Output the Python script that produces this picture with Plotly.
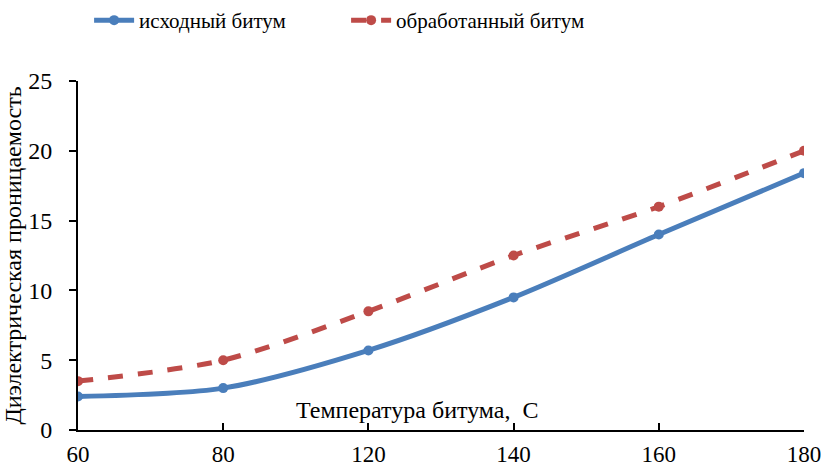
import plotly.graph_objects as go

# Temperature categories (°C) and permittivity for both bitumen samples
temps = ["60", "80", "120", "140", "160", "180"]
raw_bitumen = [2.4, 3.0, 5.7, 9.5, 14.0, 18.4]
treated_bitumen = [3.5, 5.0, 8.5, 12.5, 16.0, 20.0]
y_ticks = [0, 5, 10, 15, 20, 25]

BLUE = "#4a7ebb"
RED = "#be4b48"
SERIF = "Liberation Serif"

fig = go.Figure()
fig.add_trace(go.Scatter(
    x=temps, y=raw_bitumen, name="исходный битум",
    mode="lines+markers",
    line=dict(color=BLUE, width=5, shape="spline", smoothing=0.8),
    marker=dict(color=BLUE, size=10),
))
fig.add_trace(go.Scatter(
    x=temps, y=treated_bitumen, name="обработанный битум",
    mode="lines+markers",
    line=dict(color=RED, width=5, dash="dash", shape="spline", smoothing=0.8),
    marker=dict(color=RED, size=10),
))

fig.update_layout(
    width=825, height=470,
    margin=dict(l=78, r=21, t=81, b=40),
    plot_bgcolor="white", paper_bgcolor="white",
    font=dict(family=SERIF, size=20, color="black"),
    showlegend=True,
    legend=dict(
        orientation="h", x=0.108, y=1.0, xref="container", yref="container",
        xanchor="left", yanchor="top",
        font=dict(family=SERIF, size=21),
        entrywidth=202, entrywidthmode="pixels",
        itemwidth=40,
    ),
    xaxis=dict(
        type="category", range=[0, 5], automargin=False,
        showline=True, linecolor="black", linewidth=2,
        ticks="inside", ticklen=7, tickwidth=1.5, tickcolor="black",
        showgrid=False, zeroline=False,
        tickfont=dict(family=SERIF, size=23),
        ticklabelstandoff=2,
    ),
    yaxis=dict(
        range=[0, 25], tickvals=y_ticks, automargin=False,
        showline=True, linecolor="black", linewidth=2,
        ticks="outside", ticklen=7, tickwidth=1.5, tickcolor="black",
        showgrid=False, zeroline=False,
        tickfont=dict(family=SERIF, size=24),
        ticklabelstandoff=12,
        title=dict(text="Диэлектрическая проницаемость",
                   font=dict(family=SERIF, size=24), standoff=6),
    ),
)

# x-axis title sits inside the plotting area just above the axis line
fig.add_annotation(
    text="Температура битума,  С", xref="paper", yref="paper",
    x=0.468, y=0.057, showarrow=False,
    font=dict(family=SERIF, size=24), xanchor="center", yanchor="middle",
)

# axis line continues a little to the left of the vertical axis
fig.add_shape(type="line", xref="paper", yref="paper",
              x0=-0.011, x1=0, y0=0, y1=0,
              line=dict(color="black", width=2))

fig.write_html("out.html")
